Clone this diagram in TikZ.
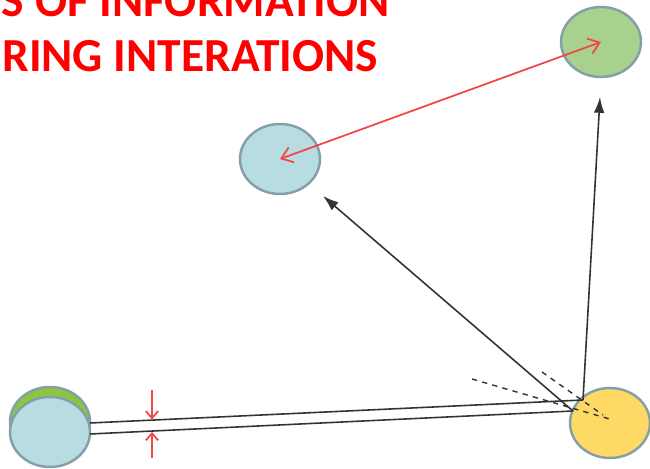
\documentclass[tikz,border=0pt]{standalone}
\usepackage{fontspec}
\setmainfont{Carlito}
\usepackage{tikz}
\usetikzlibrary{positioning, arrows.meta, shapes.geometric}
\usepackage{xcolor}
\definecolor{ballgreen}{HTML}{A9D18E}
\definecolor{leafgreen}{HTML}{8CC63F}
\definecolor{ballblue}{HTML}{B7DDE3}
\definecolor{ballyellow}{HTML}{FFD966}
\definecolor{ballrim}{HTML}{849FA8}
\definecolor{darkline}{HTML}{333333}
\definecolor{flowred}{HTML}{F24646}

\begin{document}
\begin{tikzpicture}[x=0.02cm, y=-0.02cm,
    ball/.style={ellipse, draw=ballrim, line width=1.4pt, minimum width=1.6cm, minimum height=1.4cm, inner sep=0pt},
    link/.style={draw=darkline, line width=0.9pt},
    push/.style={link, -{Latex[length=9pt, width=6pt]}},
    flow/.style={draw=flowred, line width=1pt},
    title/.style={text=red, font=\fontsize{27}{32}\selectfont\bfseries, inner sep=0pt}]
    \useasboundingbox (0,0) rectangle (650,469);
    \clip (0,0) rectangle (650,469);

    % Heading, cut by the frame
    \node[title, anchor=base east] (headone) at (390,17) {S OF INFORMATION};
    \node[title, anchor=base west] (headtwo) at (2,72) {RING INTERATIONS};

    % Agents
    \node[ball, fill=ballgreen] (target) at (601,42) {};
    \node[ball, fill=ballblue] (peer) at (280,159) {};
    \node[ball, fill=leafgreen] (sourceback) at (50,422) {};
    \node[ball, fill=ballblue] (source) at (50,432) {};
    \node[ball, fill=ballyellow] (hub) at (610,423) {};

    % End points of the links
    \coordinate (uppstart) at (90,423);
    \coordinate (lowstart) at (90,434);
    \coordinate (uppend) at (583,400);
    \coordinate (lowend) at (573,411);
    \coordinate (targetfoot) at (600,97);
    \coordinate (peerfoot) at (323,196);

    % Parallel links to the source
    \draw[link] (uppstart) -- (uppend);
    \draw[link] (lowstart) -- (lowend);

    % Outgoing flows from the hub
    \draw[push] (uppend) -- (targetfoot);
    \draw[push] (lowend) -- (peerfoot);

    % Dashed guide lines
    \coordinate (dashastart) at (472,379);
    \coordinate (dashaend) at (613,420);
    \coordinate (dashbstart) at (542,372);
    \coordinate (dashbend) at (603,415);
    \draw[darkline, dashed, line width=0.8pt] (dashastart) -- (dashaend);
    \draw[darkline, dashed, line width=0.8pt] (dashbstart) -- (dashbend);

    % Gap markers
    \coordinate (pinchtop) at (152,390);
    \coordinate (gaptop) at (152,419.5);
    \coordinate (pinchbot) at (152,458);
    \coordinate (gapbot) at (152,432);
    \draw[flow, -{Straight Barb[length=4pt, width=7pt]}] (pinchtop) -- (gaptop);
    \draw[flow, -{Straight Barb[length=4pt, width=7pt]}] (pinchbot) -- (gapbot);

    % Exchange between peer and target
    \draw[flow, {Straight Barb[length=6pt, width=9pt]}-{Straight Barb[length=6pt, width=9pt]}] (peer.center) -- (target.center);
\end{tikzpicture}
\end{document}
